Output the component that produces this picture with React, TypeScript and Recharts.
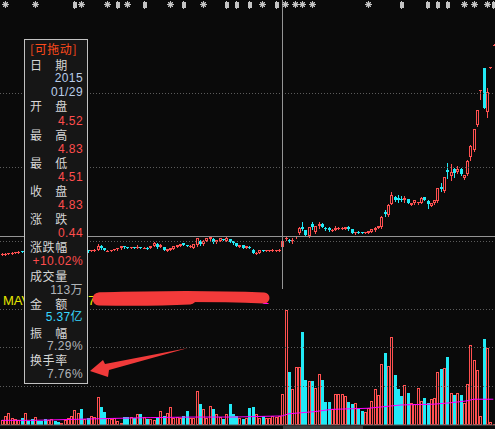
import React from 'react';
import { ComposedChart, Bar, Line, XAxis, YAxis, ReferenceLine } from 'recharts';

// ---------- data ----------
const opens = [
  4.15, 4.18, 4.18, 4.21, 4.24, 4.27, 4.31, 4.28, 4.36, 4.32,
  4.30, 4.34, 4.31, 4.29, 4.27, 4.30, 4.33, 4.30, 4.28, 4.31,
  4.34, 4.37, 4.41, 4.45, 4.47, 4.39, 4.36, 4.33, 4.36, 4.40,
  4.60, 4.46, 4.33, 4.35, 4.37, 4.42, 4.47, 4.56, 4.52, 4.48,
  4.51, 4.48, 4.52, 4.48, 4.50, 4.48, 4.58, 4.68, 4.53, 4.53,
  4.33, 4.40, 4.45, 4.53, 4.58, 4.72, 4.63, 4.56, 4.50, 4.63,
  4.83, 4.66, 4.85, 4.92, 4.95, 4.78, 4.85, 4.93, 4.84, 4.92,
  4.82, 4.73, 4.55, 4.62, 4.49, 4.55, 4.40, 4.20, 4.24, 4.36,
  4.33, 4.35, 4.36, 4.34, 4.35, 4.52, 4.95, 4.90, 4.86, 5.03,
  5.23, 5.53, 5.38, 5.08, 5.68, 5.28, 5.58, 5.70, 5.50, 5.48,
  5.33, 5.40, 5.45, 5.45, 5.43, 5.53, 5.43, 5.23, 5.30, 5.28,
  5.24, 5.25, 5.29, 5.38, 5.48, 5.53, 6.26, 6.13, 6.68, 7.03,
  6.98, 6.93, 6.88, 6.93, 6.65, 6.73, 6.73, 6.75, 7.02, 6.85,
  6.60, 6.73, 6.83, 7.53, 7.33, 8.38, 8.08, 8.43, 8.28, 8.43,
  7.98, 8.18, 9.03, 9.38, 10.63, 12.38, 13.48, 11.28, 13.51, 14.65,
];
const highs = [
  4.22, 4.22, 4.25, 4.27, 4.30, 4.31, 4.34, 4.38, 4.38, 4.34,
  4.35, 4.35, 4.33, 4.31, 4.31, 4.34, 4.34, 4.31, 4.32, 4.35,
  4.38, 4.42, 4.48, 4.49, 4.48, 4.43, 4.37, 4.38, 4.42, 4.66,
  4.62, 4.47, 4.37, 4.39, 4.43, 4.50, 4.60, 4.58, 4.53, 4.52,
  4.52, 4.62, 4.54, 4.52, 4.51, 4.60, 4.76, 4.75, 4.66, 4.55,
  4.45, 4.49, 4.58, 4.64, 4.70, 4.75, 4.65, 4.62, 4.70, 5.00,
  4.90, 4.86, 5.00, 5.06, 5.00, 4.90, 5.00, 4.95, 5.01, 4.95,
  4.84, 4.75, 4.64, 4.64, 4.58, 4.60, 4.42, 4.26, 4.40, 4.38,
  4.39, 4.40, 4.41, 4.40, 4.42, 4.83, 5.10, 4.95, 4.98, 5.10,
  5.52, 5.78, 5.40, 5.55, 5.78, 5.60, 5.78, 5.73, 5.55, 5.53,
  5.43, 5.58, 5.53, 5.53, 5.55, 5.56, 5.45, 5.29, 5.35, 5.30,
  5.30, 5.35, 5.45, 5.54, 5.58, 6.06, 6.36, 6.66, 7.28, 7.10,
  7.13, 7.08, 7.08, 6.95, 6.75, 6.90, 6.80, 7.05, 7.05, 6.88,
  6.75, 6.90, 7.50, 7.73, 8.05, 8.73, 8.68, 8.48, 8.58, 8.48,
  8.15, 8.86, 9.62, 10.45, 11.40, 12.40, 13.50, 12.48, 13.52, 14.66,
];
const lows = [
  4.12, 4.15, 4.16, 4.19, 4.22, 4.25, 4.26, 4.27, 4.30, 4.28,
  4.29, 4.30, 4.27, 4.25, 4.26, 4.29, 4.29, 4.27, 4.27, 4.30,
  4.33, 4.36, 4.40, 4.43, 4.38, 4.37, 4.30, 4.31, 4.35, 4.38,
  4.45, 4.36, 4.31, 4.33, 4.36, 4.40, 4.45, 4.48, 4.46, 4.46,
  4.46, 4.47, 4.46, 4.47, 4.45, 4.47, 4.56, 4.48, 4.52, 4.38,
  4.31, 4.38, 4.43, 4.52, 4.56, 4.62, 4.56, 4.54, 4.48, 4.60,
  4.62, 4.64, 4.83, 4.90, 4.74, 4.75, 4.83, 4.87, 4.82, 4.78,
  4.70, 4.57, 4.52, 4.47, 4.47, 4.47, 4.22, 4.18, 4.22, 4.32,
  4.32, 4.34, 4.34, 4.33, 4.33, 4.51, 4.88, 4.76, 4.75, 5.00,
  5.20, 5.38, 5.10, 5.05, 5.45, 5.25, 5.50, 5.52, 5.40, 5.33,
  5.31, 5.38, 5.42, 5.42, 5.42, 5.40, 5.22, 5.20, 5.22, 5.22,
  5.22, 5.23, 5.27, 5.33, 5.46, 5.50, 6.08, 6.10, 6.66, 6.85,
  6.78, 6.85, 6.78, 6.72, 6.62, 6.70, 6.70, 6.72, 6.87, 6.50,
  6.57, 6.70, 6.80, 7.33, 7.30, 7.98, 7.88, 8.03, 8.25, 8.15,
  7.95, 8.15, 8.88, 9.35, 10.60, 11.93, 11.48, 11.03, 13.50, 14.64,
];
const closes = [
  4.19, 4.18, 4.22, 4.25, 4.28, 4.30, 4.28, 4.36, 4.32, 4.30,
  4.34, 4.31, 4.29, 4.27, 4.30, 4.33, 4.30, 4.28, 4.31, 4.34,
  4.37, 4.41, 4.46, 4.47, 4.40, 4.42, 4.32, 4.36, 4.40, 4.60,
  4.48, 4.38, 4.35, 4.37, 4.42, 4.48, 4.56, 4.52, 4.48, 4.51,
  4.48, 4.55, 4.48, 4.50, 4.47, 4.58, 4.73, 4.53, 4.63, 4.40,
  4.43, 4.48, 4.56, 4.62, 4.67, 4.63, 4.58, 4.60, 4.68, 4.98,
  4.68, 4.83, 4.98, 5.02, 4.77, 4.88, 4.97, 4.89, 4.98, 4.80,
  4.73, 4.60, 4.62, 4.50, 4.56, 4.52, 4.25, 4.24, 4.38, 4.34,
  4.37, 4.38, 4.39, 4.37, 4.39, 4.83, 5.00, 4.86, 4.90, 5.08,
  5.48, 5.43, 5.13, 5.53, 5.55, 5.58, 5.70, 5.55, 5.48, 5.38,
  5.40, 5.46, 5.50, 5.50, 5.53, 5.45, 5.25, 5.27, 5.25, 5.24,
  5.28, 5.32, 5.42, 5.48, 5.56, 6.03, 6.18, 6.63, 7.13, 6.88,
  6.90, 6.90, 6.96, 6.75, 6.72, 6.87, 6.78, 7.00, 6.90, 6.68,
  6.73, 6.88, 7.48, 7.43, 8.03, 8.30, 8.28, 8.23, 8.43, 8.18,
  8.13, 8.83, 9.58, 10.43, 11.38, 12.40, 11.48, 12.28, 13.51, 14.65,
];
// volume, in 万 shares
const volumes = [
  18, 33, 44, 26, 22, 18, 26, 44, 15, 22,
  29, 15, 15, 22, 18, 22, 15, 11, 7, 18,
  26, 33, 55, 44, 58, 22, 26, 33, 29, 102,
  66, 47, 26, 22, 26, 15, 7, 29, 29, 29,
  26, 40, 40, 29, 22, 22, 18, 26, 51, 33,
  44, 66, 26, 29, 26, 33, 51, 26, 26, 124,
  77, 58, 26, 69, 58, 40, 29, 22, 40, 77,
  40, 33, 26, 22, 26, 62, 66, 40, 26, 33,
  26, 26, 33, 29, 33, 113, 420, 193, 131, 212,
  212, 339, 164, 161, 161, 135, 186, 164, 84, 84,
  58, 113, 113, 113, 106, 84, 77, 80, 58, 51,
  47, 62, 88, 131, 110, 223, 263, 215, 321, 183,
  131, 106, 146, 117, 80, 77, 135, 88, 99, 80,
  95, 99, 193, 204, 208, 248, 117, 110, 117, 110,
  80, 150, 292, 237, 201, 33, 314, 281, 11, 4,
];
// volume moving average, read at a few days
const maDays = [0, 10, 30, 45, 58, 70, 85, 87, 95, 100, 111, 121, 131, 136, 141, 143, 149];
const maValues = [17, 17, 23, 27, 29, 29, 33, 41, 49, 57, 61, 73, 76, 81, 88, 94, 94];
// information markers along the top
const markerDays = [1, 10, 22, 24, 32, 35, 38, 43, 51, 55, 61, 68, 71, 75, 79, 83, 86, 89, 91, 94, 111, 121, 129, 132, 135, 140, 143, 147, 149];
const markerKinds = ['s', 's', 'p', 's', 's', 'p', 's', 'p', 's', 'p', 's', 'p', 'p', 'p', 's', 'p', 's', 's', 's', 's', 's', 'p', 'p', 'p', 'p', 's', 's', 's', 'p'];
const markerLevel = 16.68;
const priceDomain = [2.43, 16.88];
const volDomain = [0, 496];
const priceGrid = [12.23, 8.53, 4.83];
const volGrid = [420, 281, 142];
const crossDay = 85;
const crossPrice = 5.05;
const axisTickDays = [6, 23, 44, 67, 124];

const tipRows: [string, string][] = [
  ['[可拖动]', 'title'],
  ['日　期', 'label'], ['2015', 'date'], ['01/29', 'date'],
  ['开　盘', 'label'], ['4.52', 'up'],
  ['最　高', 'label'], ['4.83', 'up'],
  ['最　低', 'label'], ['4.51', 'up'],
  ['收　盘', 'label'], ['4.83', 'up'],
  ['涨　跌', 'label'], ['0.44', 'up'],
  ['涨跌幅', 'label'], ['+10.02%', 'up'],
  ['成交量', 'label'], ['113万', 'gray'],
  ['金　额', 'label'], ['5.37亿', 'cyan'],
  ['振　幅', 'label'], ['7.29%', 'gray'],
  ['换手率', 'label'], ['7.76%', 'gray'],
];
// small per-row nudges (px) of the tooltip rows
const tipNudge = [-1.5, 0.5, 0, 0, 0, 0, 0, 0, 0, 0, 0, 0, 0, 0, -0.5, -0.5, 0.8, 0, 0, -0.8, 0.8, 0, 0, 0];

// ---------- styles ----------
const BG = '#0a0a0a';
const RED = '#ff5050';
const CYAN = '#22eaf6';
const GRID = '#5c5c5c';
const CROSS = '#959595';
const MARK = '#c4c4c4';

const data = opens.map((o, i) => {
  const mi = markerDays.indexOf(i);
  const ai = maDays.indexOf(i);
  return {
    idx: i,
    open: o,
    high: highs[i],
    low: lows[i],
    close: closes[i],
    hl: [lows[i], highs[i]],
    vol: volumes[i],
    ma: ai >= 0 ? maValues[ai] : null,
    mk: mi >= 0 ? markerLevel : null,
    mkKind: mi >= 0 ? markerKinds[mi] : null,
  };
});

const Candle = (props: any) => {
  const { x, y, width, height, payload } = props;
  if (x == null || y == null || !payload) return <g />;
  const top = height < 0 ? y + height : y;
  const h = Math.abs(height || 0);
  const { open, close, high, low } = payload;
  const span = high - low;
  const py = (p: number) => (span > 0 ? top + ((high - p) / span) * h : top);
  const cx = Math.round(x + width / 2);
  const up = close >= open;
  const color = up ? RED : CYAN;
  const yO = py(open);
  const yC = py(close);
  const bt = Math.round(Math.min(yO, yC));
  const bb = Math.round(Math.max(yO, yC));
  const bodyH = Math.max(bb - bt, 1);
  return (
    <g shapeRendering="crispEdges">
      <line x1={cx + 0.5} x2={cx + 0.5} y1={Math.round(top)} y2={Math.round(top + h) + 1} stroke={color} strokeWidth={1} />
      {up && bodyH > 2 ? (
        <rect x={cx - 0.5} y={bt + 0.5} width={2} height={bodyH - 1} fill={BG} stroke={color} strokeWidth={1} />
      ) : (
        <rect x={cx - 1} y={bt} width={3} height={bodyH} fill={color} />
      )}
    </g>
  );
};

const VolBar = (props: any) => {
  const { x, y, width, height, payload } = props;
  if (x == null || y == null || !payload) return <g />;
  const cx = Math.round(x + width / 2);
  const top = Math.round(y);
  const h = Math.max(Math.round(y + height) - top, 1);
  const up = payload.close >= payload.open;
  return up ? (
    <rect x={cx - 0.5} y={top + 0.5} width={2} height={Math.max(h - 1, 0.5)} fill={BG} stroke={RED} strokeWidth={1} shapeRendering="crispEdges" />
  ) : (
    <rect x={cx - 1} y={top} width={3} height={h} fill={CYAN} shapeRendering="crispEdges" />
  );
};

const MarkerDot = (props: any) => {
  const { cx, cy, payload, index } = props;
  if (cx == null || cy == null || !payload || payload.mk == null) return <g key={`m${index}`} />;
  const x = Math.round(cx) + 0.5;
  const y = Math.round(cy) + 0.5;
  if (payload.mkKind === 'p') {
    return (
      <g key={`m${index}`} stroke={MARK} strokeWidth={1} shapeRendering="crispEdges">
        <line x1={x} x2={x} y1={y - 4} y2={y + 4} />
        <rect x={x - 1.5} y={y - 2.5} width={3} height={5} fill={MARK} />
      </g>
    );
  }
  return (
    <g key={`m${index}`} stroke={MARK} strokeWidth={1}>
      <line x1={x - 3.5} x2={x + 3.5} y1={y} y2={y} />
      <line x1={x} x2={x} y1={y - 3.5} y2={y + 3.5} />
      <line x1={x - 2.5} x2={x + 2.5} y1={y - 2.5} y2={y + 2.5} />
      <line x1={x - 2.5} x2={x + 2.5} y1={y + 2.5} y2={y - 2.5} />
      <rect x={x - 1.5} y={y - 1.5} width={3} height={3} fill={MARK} />
    </g>
  );
};

const tipColor: Record<string, string> = {
  title: '#ff4a1c',
  label: '#d6d6d6',
  date: '#b9cde9',
  up: '#ff4d4d',
  gray: '#b0b4b8',
  cyan: '#38d8ff',
};

const NUM_FONT = '"Liberation Sans", Arial, "Noto Sans CJK SC", sans-serif';
const CJK_FONT = '"Noto Sans CJK SC", "Liberation Sans", sans-serif';

export default function App() {
  return (
    <div style={{ position: 'absolute', left: 0, top: 0, width: 495, height: 429, background: BG, overflow: 'hidden' }}>
      <div style={{ position: 'absolute', left: 0, top: 0 }}>
        <ComposedChart width={495} height={289} data={data} margin={{ top: 0, right: 0, bottom: 0, left: 0 }}>
          <XAxis dataKey="idx" type="category" hide />
          <YAxis hide domain={priceDomain} allowDataOverflow type="number" />
          {priceGrid.map((p) => (
            <ReferenceLine key={p} y={p} stroke={GRID} strokeDasharray="1 2" shapeRendering="crispEdges" />
          ))}
          <Bar dataKey="hl" shape={<Candle />} isAnimationActive={false} />
          <Line dataKey="mk" stroke="none" dot={MarkerDot} activeDot={false} isAnimationActive={false} />
          <ReferenceLine y={crossPrice} stroke={CROSS} shapeRendering="crispEdges" />
          <ReferenceLine x={crossDay} stroke={CROSS} shapeRendering="crispEdges" />
        </ComposedChart>
      </div>
      <div style={{ position: 'absolute', left: 0, top: 289 }}>
        <ComposedChart width={495} height={140} data={data} margin={{ top: 0, right: 0, bottom: 0, left: 0 }}>
          <XAxis
            dataKey="idx"
            type="category"
            height={4}
            ticks={axisTickDays}
            interval={0}
            tick={false}
            tickSize={4}
            axisLine={{ stroke: '#5a5a5a' }}
            tickLine={{ stroke: '#5a5a5a' }}
          />
          <YAxis hide domain={volDomain} allowDataOverflow type="number" />
          {volGrid.map((v) => (
            <ReferenceLine key={v} y={v} stroke={GRID} strokeDasharray="1 2" shapeRendering="crispEdges" />
          ))}
          <Bar dataKey="vol" shape={<VolBar />} isAnimationActive={false} />
          <Line dataKey="ma" stroke="#ff00ff" strokeWidth={1} dot={false} activeDot={false} connectNulls isAnimationActive={false} />
        </ComposedChart>
      </div>

      <svg width={495} height={429} style={{ position: 'absolute', left: 0, top: 0, pointerEvents: 'none' }}>
        <text x={3} y={305} fontSize={13} fill="#e6e600" fontFamily={NUM_FONT}>MAV</text>
        <text x={88} y={305} fontSize={13} fill="#e6e600" fontFamily={NUM_FONT}>70.675</text>
        <text x={269} y={304} fontSize={12} fill="#ff00ff" fontFamily={NUM_FONT} textAnchor="end">1</text>
        <path d="M 99 299 Q 150 300 190 298" stroke="#f33a3a" strokeWidth={13} strokeLinecap="round" fill="none" />
        <path d="M 100 298 Q 190 295 264 298" stroke="#f33a3a" strokeWidth={11} strokeLinecap="round" fill="none" />
        <path d="M 90 371 L 103 360 L 105 364 L 188 348 L 109 370 L 108 377 Z" fill="#f03a3a" />
        <rect x={283} y={426} width={80} height={3} fill="#3a3a3a" />
      </svg>

      <div
        style={{
          position: 'absolute',
          left: 24,
          top: 39,
          width: 62,
          height: 343,
          border: '1px solid #c2c2c2',
          background: '#161616',
        }}
      >
        {tipRows.map(([t, kind], k) => {
          const isLeft = kind === 'label' || kind === 'title';
          return (
            <div
              key={k}
              style={{
                position: 'absolute',
                top: 50 + 14.1 * k - 40 - 7 + tipNudge[k],
                left: isLeft ? 5 : undefined,
                right: isLeft ? undefined : 4,
                height: 14,
                lineHeight: '14px',
                fontSize: isLeft ? 12 : 12,
                letterSpacing: isLeft ? 0.6 : 0.4,
                color: tipColor[kind],
                fontFamily: isLeft ? CJK_FONT : NUM_FONT,
                whiteSpace: 'nowrap',
              }}
            >
              {t}
            </div>
          );
        })}
      </div>
    </div>
  );
}
